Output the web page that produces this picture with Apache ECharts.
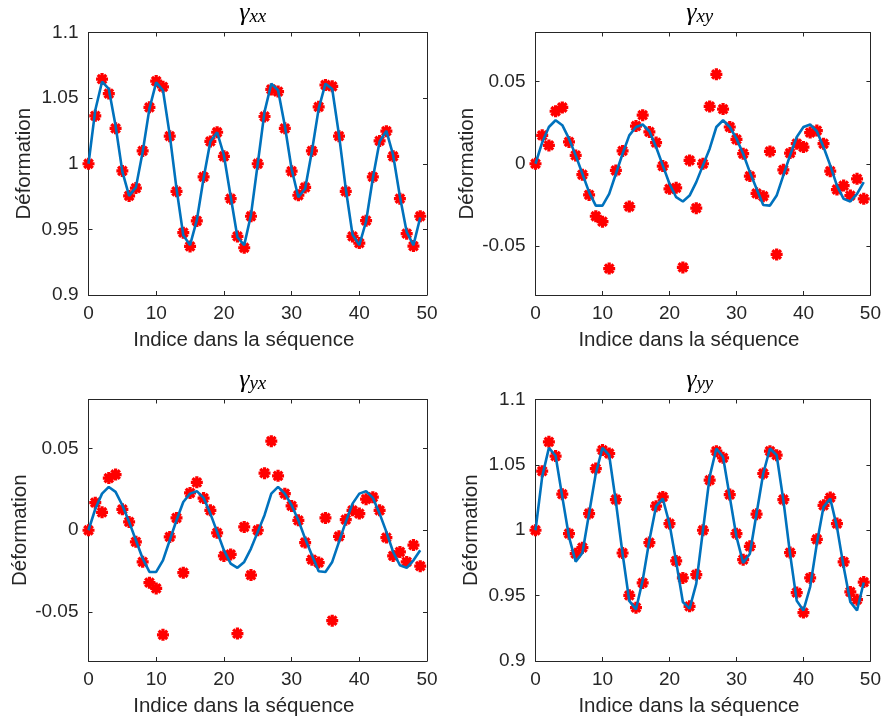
<!DOCTYPE html>
<html>
<head>
<meta charset="utf-8">
<script src="https://cdn.jsdelivr.net/npm/echarts@6/dist/echarts.min.js"></script>
<style>
html,body{margin:0;padding:0;background:#fff;}
#chart{width:884px;height:720px;}
</style>
</head>
<body>
<div id="chart"></div>
<script>
// ---------- data ----------
const xTicks = [0, 10, 20, 30, 40, 50];
const yTicksDiag = [0.9, 0.95, 1, 1.05, 1.1];
const yTicksOff = [-0.05, 0, 0.05];

const gxxMeas = [1.0, 1.0365, 1.0645, 1.0535, 1.027, 0.9945, 0.9755, 0.9815, 1.0098, 1.043,
  1.063, 1.0586, 1.021, 0.979, 0.9475, 0.937, 0.9564, 0.990, 1.017, 1.024,
  1.0057, 0.9734, 0.9446, 0.936, 0.960, 1.0, 1.036, 1.0566, 1.055, 1.027,
  0.9943, 0.976, 0.982, 1.0098, 1.0434, 1.060, 1.059, 1.021, 0.979, 0.9446,
  0.9396, 0.9566, 0.990, 1.0174, 1.0248, 1.0057, 0.9734, 0.9467, 0.9373, 0.960];
const gxxFit = [1.0, 1.0408, 1.0625, 1.057, 1.029, 0.994, 0.9755, 0.982, 1.009, 1.042,
  1.062, 1.056, 1.022, 0.981, 0.9455, 0.938, 0.957, 0.989, 1.017, 1.024,
  1.0065, 0.975, 0.944, 0.938, 0.961, 1.0, 1.0395, 1.061, 1.056, 1.029,
  0.996, 0.9745, 0.981, 1.0095, 1.042, 1.061, 1.057, 1.022, 0.981, 0.946,
  0.938, 0.956, 0.989, 1.017, 1.025, 1.0065, 0.975, 0.948, 0.938, 0.959];

const gxyMeas = [0, 0.0173, 0.0112, 0.032, 0.0343, 0.0133, 0.0051, -0.0067, -0.019, -0.032,
  -0.0353, -0.0639, -0.0041, 0.0078, -0.0261, 0.023, 0.0296, 0.0194, 0.0129, -0.0014,
  -0.0153, -0.0147, -0.0632, 0.002, -0.0271, 0.0, 0.0349, 0.0545, 0.0333, 0.0224,
  0.0149, 0.0061, -0.0075, -0.018, -0.0198, 0.0075, -0.0553, -0.0037, 0.0065, 0.0122,
  0.0102, 0.019, 0.0202, 0.0122, -0.0045, -0.0157, -0.0133, -0.0194, -0.0092, -0.0214];
const gxyFit = [0, 0.013, 0.0224, 0.0265, 0.0235, 0.0153, 0.0051, -0.0061, -0.0173, -0.0255,
  -0.0255, -0.0184, -0.0061, 0.0061, 0.0173, 0.0224, 0.0239, 0.0198, 0.0102, -0.001,
  -0.0122, -0.0204, -0.023, -0.0194, -0.0112, -0.001, 0.0092, 0.0224, 0.0265, 0.0224,
  0.0153, 0.0061, -0.0051, -0.0153, -0.0251, -0.0255, -0.0194, -0.0071, 0.0051, 0.0163,
  0.0224, 0.0239, 0.0198, 0.0102, -0.001, -0.0133, -0.0214, -0.023, -0.0184, -0.0112];

const gyxMeas = [0, 0.0169, 0.011, 0.0319, 0.0341, 0.0128, 0.0051, -0.0071, -0.0193, -0.0321,
  -0.0356, -0.064, -0.0041, 0.0075, -0.026, 0.0228, 0.0293, 0.0197, 0.0122, -0.0016,
  -0.0157, -0.0148, -0.0632, 0.002, -0.0274, 0.0, 0.0349, 0.0545, 0.0333, 0.0224,
  0.0149, 0.0061, -0.0075, -0.018, -0.0198, 0.0075, -0.0553, -0.0037, 0.0065, 0.0122,
  0.0102, 0.019, 0.0202, 0.0122, -0.0045, -0.0157, -0.0133, -0.0194, -0.0091, -0.022];
const gyxFit = [0, 0.013, 0.0224, 0.0265, 0.0235, 0.0153, 0.0051, -0.0061, -0.0173, -0.0255,
  -0.0255, -0.0184, -0.0061, 0.0061, 0.0173, 0.0224, 0.0239, 0.0198, 0.0102, -0.001,
  -0.0122, -0.0204, -0.023, -0.0194, -0.0112, -0.001, 0.0092, 0.0224, 0.0265, 0.0224,
  0.0153, 0.0061, -0.0051, -0.0153, -0.0251, -0.0255, -0.0194, -0.0071, 0.0051, 0.0163,
  0.0224, 0.0239, 0.0198, 0.0102, -0.001, -0.0133, -0.0214, -0.023, -0.0184, -0.0122];

const gyyMeas = [1.0, 1.0452, 1.0676, 1.0567, 1.0276, 0.9974, 0.9821, 0.9867, 1.0128, 1.0472,
  1.0613, 1.0587, 1.0235, 0.9826, 0.9502, 0.9408, 0.9597, 0.9906, 1.0184, 1.0255,
  1.0051, 0.9765, 0.9635, 0.9418, 0.966, 1.0, 1.0383, 1.0605, 1.0554, 1.0273,
  0.9974, 0.9775, 0.9877, 1.0123, 1.0434, 1.0605, 1.0574, 1.0235, 0.9829, 0.9523,
  0.937, 0.9635, 0.9931, 1.0191, 1.025, 1.0051, 0.9758, 0.9528, 0.9469, 0.9604];
const gyyFit = [1.0, 1.041, 1.063, 1.057, 1.0255, 0.995, 0.976, 0.9826, 1.0128, 1.0434,
  1.063, 1.0574, 1.0217, 0.982, 0.946, 0.9395, 0.9617, 0.9923, 1.0184, 1.0242,
  1.005, 0.9758, 0.9451, 0.94, 0.9592, 1.0, 1.041, 1.0625, 1.056, 1.0255,
  0.995, 0.975, 0.982, 1.0128, 1.0434, 1.0625, 1.0574, 1.023, 0.982, 0.946,
  0.9387, 0.9566, 0.9898, 1.0179, 1.0242, 1.0026, 0.972, 0.9451, 0.9387, 0.96];

const panelTitles = ['xx', 'xy', 'yx', 'yy'];
const xLabel = 'Indice dans la séquence';
const yLabel = 'Déformation';

// ---------- chart ----------
const panels = [
  {meas: gxxMeas, fit: gxxFit, ticks: yTicksDiag, min: 0.9, max: 1.1},
  {meas: gxyMeas, fit: gxyFit, ticks: yTicksOff, min: -0.08, max: 0.08},
  {meas: gyxMeas, fit: gyxFit, ticks: yTicksOff, min: -0.08, max: 0.08},
  {meas: gyyMeas, fit: gyyFit, ticks: yTicksDiag, min: 0.9, max: 1.1}
];
const gridPos = [
  {left: 88.5, top: 32.5, width: 338.5, height: 262.5},
  {left: 535.5, top: 32.5, width: 338.5, height: 262.5},
  {left: 88.5, top: 399.5, width: 338.5, height: 261.5},
  {left: 535.5, top: 399.5, width: 338.5, height: 261.5}
];

const TXT = '#262626';
const FONT = 'Liberation Sans';
const lineStyle = {color: TXT, width: 1};
const fmt = v => String(+(+v).toFixed(3));
const star = 'path://M-5,-1.35L5,-1.35L5,1.35L-5,1.35Z' +
  'M-1.35,-5L1.35,-5L1.35,5L-1.35,5Z' +
  'M2.6,4.5L-4.5,-2.6L-2.6,-4.5L4.5,2.6Z' +
  'M4.5,-2.6L-2.6,4.5L-4.5,2.6L2.6,-4.5Z';

const grid = [], xAxis = [], yAxis = [], series = [], graphic = [];
panels.forEach((p, k) => {
  grid.push(Object.assign({containLabel: false}, gridPos[k]));
  const xi = xAxis.length, yi = yAxis.length;
  xAxis.push({
    type: 'value', gridIndex: k, min: 0, max: 50, position: 'bottom',
    axisLine: {show: true, onZero: false, lineStyle},
    axisTick: {show: true, inside: true, length: 4, lineStyle, customValues: xTicks},
    axisLabel: {fontSize: 19, color: TXT, fontFamily: FONT, margin: 9, customValues: xTicks, formatter: fmt},
    splitLine: {show: false},
    name: xLabel, nameLocation: 'middle', nameGap: 35,
    nameTextStyle: {fontSize: 20.5, color: TXT, fontFamily: FONT, padding: [0, 28, 0, 0]}
  });
  xAxis.push({
    type: 'value', gridIndex: k, min: 0, max: 50, position: 'top',
    axisLine: {show: true, onZero: false, lineStyle},
    axisTick: {show: true, inside: true, length: 4, lineStyle, customValues: xTicks},
    axisLabel: {show: false}, splitLine: {show: false}
  });
  yAxis.push({
    type: 'value', gridIndex: k, min: p.min, max: p.max, position: 'left',
    axisLine: {show: true, onZero: false, lineStyle},
    axisTick: {show: true, inside: true, length: 4, lineStyle, customValues: p.ticks},
    axisLabel: {fontSize: 19, color: TXT, fontFamily: FONT, margin: 10, customValues: p.ticks, formatter: fmt},
    splitLine: {show: false},
    name: yLabel, nameLocation: 'middle', nameGap: 54,
    nameTextStyle: {fontSize: 20.5, color: TXT, fontFamily: FONT}
  });
  yAxis.push({
    type: 'value', gridIndex: k, min: p.min, max: p.max, position: 'right',
    axisLine: {show: true, onZero: false, lineStyle},
    axisTick: {show: true, inside: true, length: 4, lineStyle, customValues: p.ticks},
    axisLabel: {show: false}, splitLine: {show: false}
  });
  series.push({
    type: 'scatter', xAxisIndex: xi, yAxisIndex: yi,
    data: p.meas.map((v, i) => [i, v]),
    symbol: star, symbolSize: 12,
    itemStyle: {color: '#ff0000', opacity: 1}, z: 2
  });
  series.push({
    type: 'line', xAxisIndex: xi, yAxisIndex: yi,
    data: p.fit.map((v, i) => [i, v]),
    showSymbol: false, symbol: 'none',
    lineStyle: {color: '#0072BD', width: 2.6}, z: 3
  });
  const g = gridPos[k];
  graphic.push({
    type: 'text', x: g.left + g.width / 2 - 5, y: g.top - 19,
    style: {
      text: '{g|γ}{s|' + panelTitles[k] + '}',
      align: 'center', textAlign: 'center', verticalAlign: 'middle', textVerticalAlign: 'middle',
      rich: {
        g: {fontFamily: 'Liberation Serif', fontStyle: 'italic', fontSize: 26, fill: '#000', color: '#000'},
        s: {fontFamily: 'Liberation Serif', fontStyle: 'italic', fontSize: 19, fill: '#000', color: '#000', padding: [6, 0, 0, 0]}
      }
    }
  });
});

const chart = echarts.init(document.getElementById('chart'), null, {renderer: 'canvas'});
chart.setOption({
  backgroundColor: '#ffffff',
  animation: false,
  grid, xAxis, yAxis, series, graphic
});
</script>
</body>
</html>
